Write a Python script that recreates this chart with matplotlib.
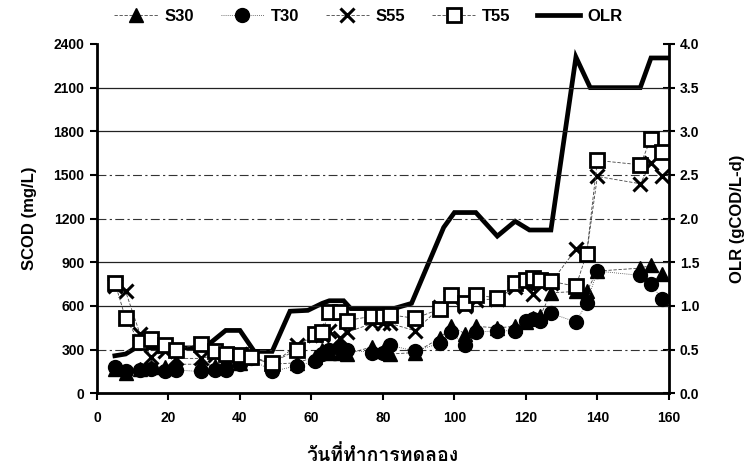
import matplotlib
matplotlib.use("Agg")
import matplotlib.pyplot as plt
from matplotlib import font_manager
from matplotlib.ft2font import FT2Font
from matplotlib.lines import Line2D

# ---- data -------------------------------------------------------------
days = [5, 8, 12, 15, 19, 22, 29, 33, 36, 40, 43, 49, 56, 61, 63, 65, 68, 70,
        77, 80, 82, 89, 96, 99, 103, 106, 112, 117, 120, 122, 124, 127, 134,
        137, 140, 152, 155, 158]

s30 = [170, 140, 170, 180, 180, 200, 200, 190, 230, 210, 250, 200, 210, 250,
       300, 280, 280, 270, 320, 290, 270, 280, 380, 460, 410, 460, 450, 460,
       490, 520, 530, 690, 700, 700, 840, 860, 880, 820]
t30 = [180, 150, 160, 165, 150, 160, 150, 160, 160, 200, 240, 150, 190, 220,
       270, 300, 320, 300, 280, 275, 330, 290, 345, 420, 330, 420, 430, 430,
       500, 510, 500, 550, 490, 620, 840, 810, 750, 650]
s55 = [740, 700, 410, 250, 290, 240, 240, 260, 230, 270, 250, 200, 330, 400,
       400, 430, 380, 420, 480, 480, 480, 430, 590, 660, 600, 640, 650, 730,
       760, 680, 760, 760, 990, 960, 1490, 1440, 1580, 1490]
t55 = [760, 515, 350, 370, 330, 300, 340, 290, 270, 265, 250, 210, 300, 410,
       420, 560, 560, 500, 530, 530, 540, 515, 580, 675, 620, 675, 655, 760,
       780, 790, 780, 770, 735, 960, 1600, 1570, 1750, 1660]

olr_days = [5, 8, 12, 15, 22, 30, 36, 40, 44, 49, 54, 59, 63, 65, 69, 71, 83,
            88, 97, 100, 106, 112, 117, 121, 127, 134, 138, 152, 155, 160]
olr = [0.43, 0.45, 0.55, 0.52, 0.52, 0.52, 0.72, 0.72, 0.48, 0.48, 0.94, 0.95,
       1.03, 1.06, 1.06, 0.97, 0.97, 1.03, 1.90, 2.07, 2.07, 1.80, 1.97, 1.87,
       1.87, 3.85, 3.50, 3.50, 3.84, 3.84]

x_ticks = [0, 20, 40, 60, 80, 100, 120, 140, 160]
left_ticks = [0, 300, 600, 900, 1200, 1500, 1800, 2100, 2400]
right_ticks = [0.0, 0.5, 1.0, 1.5, 2.0, 2.5, 3.0, 3.5, 4.0]

x_label = "วันที่ทำการทดลอง"
left_label = "SCOD (mg/L)"
right_label = "OLR (gCOD/L-d)"


def thai_font():
    """Pick an installed font that has Thai glyphs, preferring bold faces."""
    best = None
    for f in font_manager.fontManager.ttflist:
        try:
            cmap = FT2Font(f.fname).get_charmap()
        except Exception:
            continue
        if 0x0E27 in cmap and 0x0E17 in cmap:
            if best is None or (f.weight in ("bold", 700) and best.weight not in ("bold", 700)):
                best = f
    return best.name if best else "DejaVu Sans"


TH = thai_font()
plt.rcParams["font.family"] = ["Liberation Sans Narrow", "Liberation Sans", "DejaVu Sans"]

fig = plt.figure(figsize=(7.44, 4.72), dpi=100)
ax = fig.add_axes([0.1304, 0.1667, 0.7686, 0.7401])
ax2 = ax.twinx()

ax.set_xlim(0, 160)
ax.set_ylim(0, 2400)
ax2.set_ylim(0, 4.0)

# horizontal grid
for v in left_ticks[1:-1]:
    if v in (300, 1200, 1500):
        ax.axhline(v, color="#333333", lw=0.8, ls=(0, (8, 3, 2, 3)), zorder=1)
    else:
        ax.axhline(v, color="#222222", lw=0.9, zorder=1)

ms = 9.5
thin = dict(color="#444444", lw=0.6)
ax.plot(days, s30, marker="^", ms=ms, mfc="black", mec="black", ls=(0, (4, 2)), zorder=3, **thin)
ax.plot(days, t30, marker="o", ms=ms + 0.5, mfc="black", mec="black", ls=(0, (1, 1.5)), zorder=3, **thin)
ax.plot(days, s55, marker="x", ms=ms + 0.5, mew=2.2, mec="black", ls=(0, (4, 2)), zorder=4, **thin)
ax.plot(days, t55, marker="s", ms=ms, mfc="white", mec="black", mew=2.0, ls=(0, (4, 2)), zorder=4, **thin)
ax2.plot(olr_days, olr, color="black", lw=3.4, solid_joinstyle="miter", zorder=5)

ax.set_zorder(ax2.get_zorder() + 1)
ax.patch.set_visible(False)

tick_font = dict(fontsize=10, fontweight="bold")
ax.set_xticks(x_ticks)
ax.set_xticklabels([str(t) for t in x_ticks], **tick_font)
ax.set_yticks(left_ticks)
ax.set_yticklabels([str(t) for t in left_ticks], **tick_font)
ax2.set_yticks(right_ticks)
ax2.set_yticklabels([f"{t:.1f}" for t in right_ticks], **tick_font)

for a in (ax, ax2):
    a.spines["top"].set_visible(False)
    for s in ("left", "bottom", "right"):
        a.spines[s].set_linewidth(2.0)
ax.spines["right"].set_visible(False)
ax2.spines["left"].set_visible(False)
ax2.spines["bottom"].set_visible(False)

ax.tick_params(axis="x", direction="out", length=5, width=1.5, pad=8)
ax.tick_params(axis="y", direction="out", length=5, width=1.5, pad=4)
ax2.tick_params(axis="y", direction="inout", length=8, width=1.5, pad=4)

ax.set_ylabel(left_label, fontsize=12, fontweight="bold", labelpad=12)
ax2.set_ylabel(right_label, fontsize=12, fontweight="bold", labelpad=22)
ax.set_xlabel(x_label, fontsize=14, fontweight="bold", family=[TH, "DejaVu Sans"], labelpad=14)

handles = [
    Line2D([], [], marker="^", ms=ms, mfc="black", mec="black", ls=(0, (4, 2)), **thin),
    Line2D([], [], marker="o", ms=ms + 0.5, mfc="black", mec="black", ls=(0, (1, 1.5)), **thin),
    Line2D([], [], marker="x", ms=ms + 0.5, mew=2.2, mec="black", ls=(0, (4, 2)), **thin),
    Line2D([], [], marker="s", ms=ms, mfc="white", mec="black", mew=2.0, ls=(0, (4, 2)), **thin),
    Line2D([], [], color="black", lw=3.4),
]
fig.legend(handles, ["S30", "T30", "S55", "T55", "OLR"], loc="center",
           bbox_to_anchor=(0.495, 0.965), ncol=5, frameon=False,
           prop=dict(size=12, weight="bold"), handlelength=2.6,
           handletextpad=0.4, columnspacing=1.6)

fig.savefig("out.png", dpi=100)
